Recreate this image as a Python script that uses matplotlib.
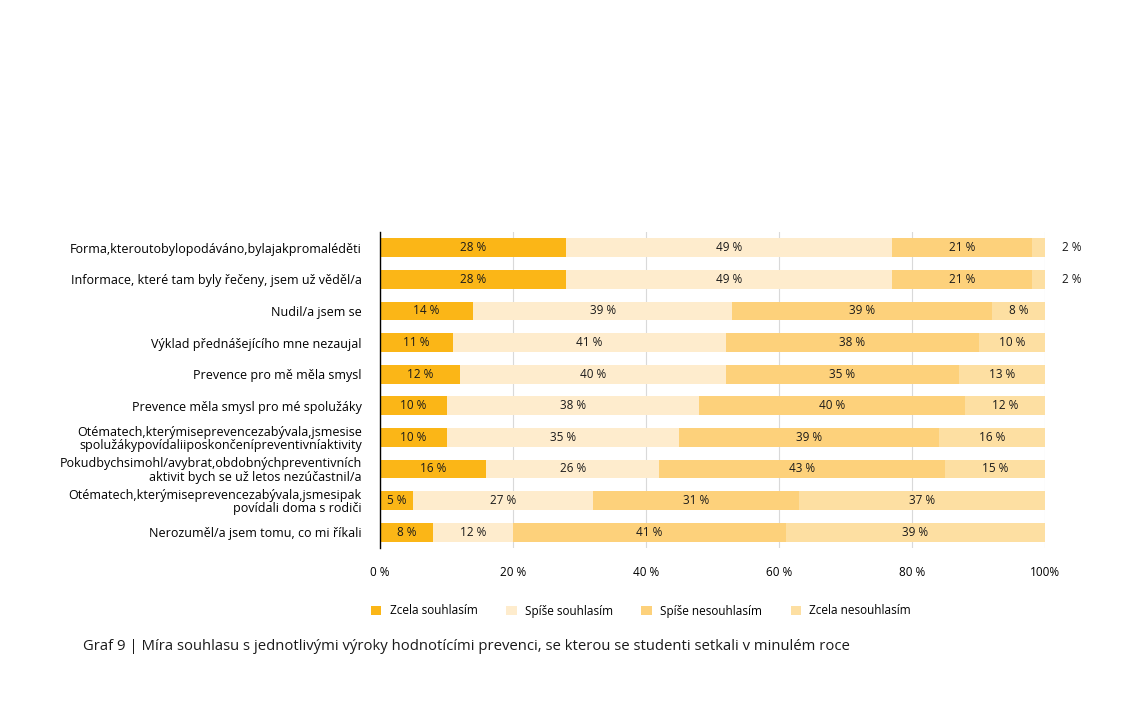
import matplotlib
matplotlib.use('Agg')
import matplotlib.pyplot as plt
import numpy as np

plt.rcParams['font.family'] = ['Open Sans', 'DejaVu Sans']

categories = [
    "Forma,kteroutobylopodáváno,bylajakpromaléděti",
    "Informace, které tam byly řečeny, jsem už věděl/a",
    "Nudil/a jsem se",
    "Výklad přednášejícího mne nezaujal",
    "Prevence pro mě měla smysl",
    "Prevence měla smysl pro mé spolužáky",
    "Otématech,kterýmiseprevencezabývala,jsmesise\nspolužákypovídaliiposkončenípreventivníaktivity",
    "Pokudbychsimohl/avybrat,obdobnýchpreventivních\naktivit bych se už letos nezúčastnil/a",
    "Otématech,kterýmiseprevencezabývala,jsmesipak\npovídali doma s rodiči",
    "Nerozuměl/a jsem tomu, co mi říkali",
]
series_names = ["Zcela souhlasím", "Spíše souhlasím", "Spíše nesouhlasím", "Zcela nesouhlasím"]
zcela_souhlasim = [28, 28, 14, 11, 12, 10, 10, 16, 5, 8]
spise_souhlasim = [49, 49, 39, 41, 40, 38, 35, 26, 27, 12]
spise_nesouhlasim = [21, 21, 39, 38, 35, 40, 39, 43, 31, 41]
zcela_nesouhlasim = [2, 2, 8, 10, 13, 12, 16, 15, 37, 39]
xticks = [0, 20, 40, 60, 80, 100]
xtick_labels = ["0 %", "20 %", "40 %", "60 %", "80 %", "100%"]

colors = ["#FBB617", "#FEECCD", "#FDD17B", "#FDDFA2"]
series = [zcela_souhlasim, spise_souhlasim, spise_nesouhlasim, zcela_nesouhlasim]

fig = plt.figure(figsize=(11.23, 7.18), dpi=100)
ax = fig.add_axes([380 / 1123, 1 - 548 / 718, 665 / 1123, 316 / 718])

y = np.arange(len(categories))
left = np.zeros(len(categories))
handles = []
for name, vals, col in zip(series_names, series, colors):
    vals = np.array(vals, dtype=float)
    h = ax.barh(y, vals, left=left, height=0.6, color=col, label=name, zorder=2)
    handles.append(h)
    for yi, l, v in zip(y, left, vals):
        if v <= 3:
            # too narrow, put the label outside the bar
            ax.text(102.5, yi, f"{int(v)} %", ha='left', va='center', fontsize=8.5,
                    color='#1a1a1a', clip_on=False)
        else:
            ax.text(l + v / 2, yi, f"{int(v)} %", ha='center', va='center', fontsize=8.5,
                    color='#1a1a1a', zorder=3)
    left += vals

ax.set_xlim(0, 100)
ax.set_ylim(9.5, -0.5)
ax.set_yticks(y)
ax.set_yticklabels(categories, fontsize=9, linespacing=1.0)
ax.set_xticks(xticks)
ax.set_xticklabels(xtick_labels, fontsize=8.5)
ax.tick_params(axis='both', length=0)
ax.tick_params(axis='y', pad=13)
ax.tick_params(axis='x', pad=13)
ax.grid(axis='x', color='#d9d9d9', linewidth=0.8, zorder=0)
for s in ['top', 'right', 'bottom']:
    ax.spines[s].set_visible(False)
ax.spines['left'].set_color('black')
ax.spines['left'].set_linewidth(1.0)
ax.spines['left'].set_zorder(4)

fig.legend(handles=handles, labels=series_names, loc='center', ncol=4,
           bbox_to_anchor=(641 / 1123, 1 - 611 / 718), frameon=False, fontsize=8.5,
           handlelength=0.9, handleheight=0.9, handletextpad=0.7, columnspacing=2.4)

fig.text(83 / 1123, 1 - 646 / 718,
         "Graf 9 | Míra souhlasu s jednotlivými výroky hodnotícími prevenci, se kterou se studenti setkali v minulém roce",
         fontsize=10.7, ha='left', va='center', color='#1a1a1a')

fig.savefig('out.png', dpi=100)
